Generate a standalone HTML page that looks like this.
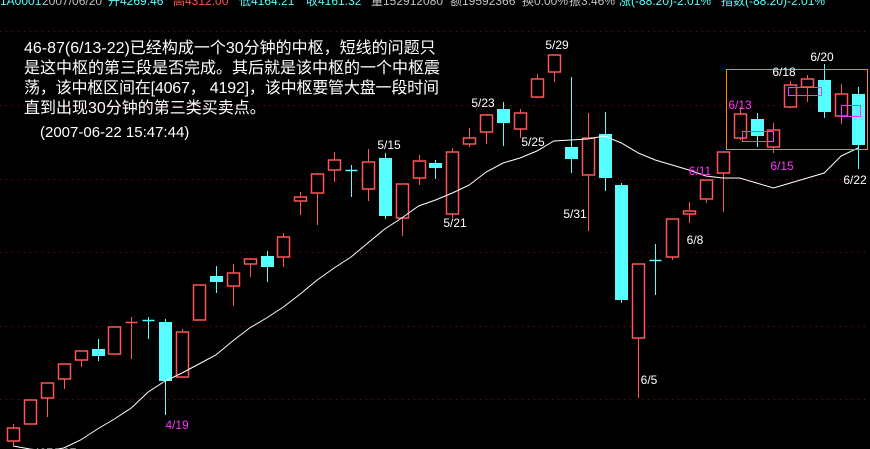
<!DOCTYPE html>
<html><head><meta charset="utf-8"><style>
html,body{margin:0;padding:0;background:#000;width:870px;height:449px;overflow:hidden}
svg{display:block}
.tb{font-family:"Liberation Sans","Noto Sans CJK SC",sans-serif;font-size:12px}
.note{font-family:"Liberation Sans","Noto Sans CJK SC",sans-serif;font-size:16px;fill:#fff}
.lbl{font-family:"Liberation Sans",sans-serif;font-size:12px}
</style></head><body>
<svg id="chart" width="870" height="449" viewBox="0 0 870 449" xmlns="http://www.w3.org/2000/svg">
<g id="grid"></g>
<g class="tb">
<text x="0" y="5" fill="#55ffff">1A0001</text>
<text x="42" y="5" fill="#c0c0c0">2007/06/20</text>
<text x="108" y="5" fill="#55ffff">开4269.46</text>
<text x="173" y="5" fill="#ff5555">高4312.00</text>
<text x="239" y="5" fill="#55ffff">低4164.21</text>
<text x="306" y="5" fill="#55ffff">收4161.32</text>
<text x="371" y="5" fill="#c0c0c0">量152912080</text>
<text x="450" y="5" fill="#c0c0c0">额19592366</text>
<text x="522" y="5" fill="#c0c0c0">换0.00%</text>
<text x="569" y="5" fill="#c0c0c0">振3.46%</text>
<text x="619" y="5" fill="#55ffff">涨(-88.20)-2.01%</text>
<text x="721" y="5" fill="#55ffff">指数(-88.20)-2.01%</text>
</g>
<g id="candles"></g>
<polyline id="ma" fill="none" stroke="#ffffff" stroke-width="1"></polyline>
<g fill="none">
<rect x="726.5" y="69.5" width="141" height="80" stroke="#ff8800"/>
<rect x="742.5" y="131.5" width="31" height="10" stroke="#ff33ff"/>
<rect x="788.5" y="87.5" width="33" height="8" stroke="#ff33ff"/>
<rect x="841.5" y="105.5" width="19" height="11" stroke="#ff33ff"/>
</g>
<g class="lbl" text-anchor="middle">
<text x="177" y="429" fill="#ff33ff">4/19</text>
<text x="389" y="149" fill="#fff">5/15</text>
<text x="455" y="227" fill="#fff">5/21</text>
<text x="483" y="107" fill="#fff">5/23</text>
<text x="533" y="146" fill="#fff">5/25</text>
<text x="557" y="49" fill="#fff">5/29</text>
<text x="575" y="218" fill="#fff">5/31</text>
<text x="649" y="384" fill="#fff">6/5</text>
<text x="695" y="244" fill="#fff">6/8</text>
<text x="700" y="175" fill="#ff33ff">6/11</text>
<text x="740" y="109" fill="#ff33ff">6/13</text>
<text x="782" y="170" fill="#ff33ff">6/15</text>
<text x="784" y="76" fill="#fff">6/18</text>
<text x="822" y="61" fill="#fff">6/20</text>
<text x="855" y="184" fill="#fff">6/22</text>
</g>
<g class="note">
<text x="24" y="53">46-87(6/13-22)已经构成一个30分钟的中枢，短线的问题只</text>
<text x="24" y="73">是这中枢的第三段是否完成。其后就是该中枢的一个中枢震</text>
<text x="24" y="93" textLength="415">荡，该中枢区间在[4067， 4192]，该中枢要管大盘一段时间</text>
<text x="24" y="113">直到出现30分钟的第三类买卖点。</text>
<text x="40" y="137" style="font-size:15px">(2007-06-22 15:47:44)</text>
</g>
<text x="33" y="457" class="lbl" fill="#fff">4070.07</text>
</svg>
<script>
const opens  = [4059,4076,4102,4121,4140,4151,4146,4178,4180,4178,4123,4180,4224,4214,4236,4244,4243,4299,4307,4330,4330,4311,4342,4282,4322,4337,4286,4356,4368,4391,4371,4403,4428,4353,4325,4366,4315,4162,4240,4243,4286,4301,4327,4362,4381,4353,4393,4413,4420,4384,4406];
const highs  = [4076,4100,4117,4136,4149,4161,4173,4183,4183,4181,4171,4215,4234,4236,4242,4249,4267,4308,4327,4348,4335,4351,4347,4316,4345,4340,4352,4372,4386,4398,4391,4426,4445,4423,4387,4388,4317,4236,4256,4281,4298,4320,4348,4393,4387,4377,4419,4425,4436,4416,4413];
const lows   = [4054,4076,4083,4111,4133,4139,4146,4141,4161,4085,4123,4180,4207,4194,4223,4218,4233,4285,4275,4318,4303,4299,4281,4264,4315,4321,4282,4353,4356,4354,4362,4402,4418,4327,4269,4309,4197,4102,4205,4240,4277,4297,4288,4360,4353,4347,4392,4398,4382,4376,4331];
const closes = [4072,4100,4117,4136,4149,4144,4173,4178,4180,4119,4168,4215,4218,4227,4241,4233,4263,4303,4326,4340,4330,4338,4284,4316,4339,4332,4348,4362,4385,4377,4387,4421,4445,4341,4362,4322,4200,4236,4240,4281,4289,4320,4348,4386,4364,4370,4415,4421,4388,4406,4355];
const dojiUp = [7];
const maValues = [4054,4051,4049,4052,4060,4071,4081,4092,4108,4119,4127,4136,4145,4159,4172,4182,4193,4206,4220,4232,4243,4257,4271,4282,4294,4300,4307,4315,4328,4337,4342,4349,4359,4360,4361,4364,4357,4347,4340,4335,4330,4324,4322,4322,4317,4312,4317,4322,4327,4344,4352];
const gridPrices = [4469,4395,4321,4248,4174,4101];

const NS='http://www.w3.org/2000/svg';
function xScale(i){return 13+i*16.9;}
function yScale(p){return 4500-p;}
function mk(tag,attrs,parent){const e=document.createElementNS(NS,tag);for(const k in attrs)e.setAttribute(k,attrs[k]);parent.appendChild(e);return e;}

const grid=document.getElementById('grid');
gridPrices.forEach(function(p){
  const y=Math.round(yScale(p))+0.5;
  const l=mk('line',{x1:0,x2:870,y1:y,y2:y,stroke:'#a00000','stroke-width':1,'stroke-dasharray':'1 5'},grid);
  
  
});

const cg=document.getElementById('candles');
const W=12;
opens.forEach(function(o,i){
  const c=closes[i],h=highs[i],lo=lows[i];
  let up=c>o || (c===o && dojiUp.indexOf(i)>=0);
  const col=up?'#ff5555':'#55ffff';
  const x=Math.round(xScale(i))+0.5;
  const g=mk('g',{},cg);
  
  
  const top=yScale(Math.max(o,c)), bot=yScale(Math.min(o,c));
  mk('line',{x1:x,x2:x,y1:yScale(h),y2:top,stroke:col},g);
  mk('line',{x1:x,x2:x,y1:bot,y2:yScale(lo),stroke:col},g);
  if(bot-top<1){
    mk('line',{x1:x-6,x2:x+6,y1:Math.round(top)+0.5,y2:Math.round(top)+0.5,stroke:col,'stroke-width':1.5},g);
  } else if(up){
    mk('rect',{x:x-6,y:top,width:W,height:bot-top,fill:'#000',stroke:col,'stroke-width':1.5},g);
  } else {
    mk('rect',{x:x-6.5,y:top,width:W+1,height:bot-top,fill:col},g);
  }
});
document.getElementById('ma').setAttribute('points',maValues.map(function(v,i){return xScale(i).toFixed(1)+','+yScale(v);}).join(' '));
</script>
</body></html>
